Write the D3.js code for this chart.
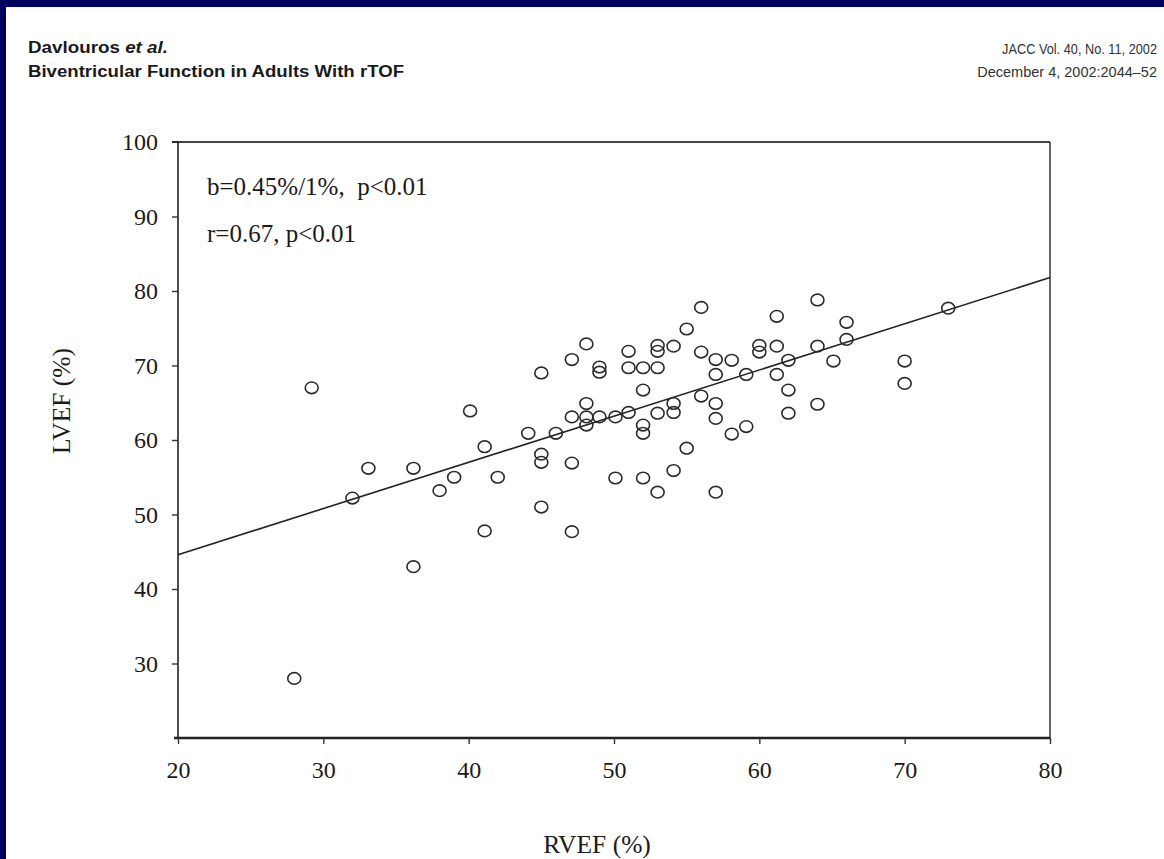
<!DOCTYPE html>
<html>
<head>
<meta charset="utf-8">
<script src="https://cdn.jsdelivr.net/npm/d3@7"></script>
<style>
html,body{margin:0;padding:0;background:#00005e;}
svg{display:block;}
</style>
</head>
<body>
<script>
// ---- data ----
const rvef = [28,29.2,32,33.1,36.2,36.2,38,39,40.1,41.1,41.1,42,44.1,45,45,45,45,46,47.1,47.1,47.1,47.1,
  48.1,48.1,48.1,48.1,49,49,49,50.1,50.1,51,51,51,52,52,52,52,52,53,53,53,53,53,54.1,54.1,54.1,54.1,
  55,55,56,56,56,57,57,57,57,57,58.1,58.1,59.1,59.1,60,60,61.2,61.2,61.2,62,62,62,64,64,64,65.1,66,66,70,70,73];
const lvef = [28,67,52.2,56.2,56.2,43,53.2,55,63.9,59.1,47.8,55,60.9,69,58.1,57,51,60.9,70.8,63.1,56.9,47.7,
  72.9,64.9,63.1,62,69.8,69.1,63.1,63.1,54.9,71.9,69.7,63.7,69.7,66.7,62,60.9,54.9,72.7,71.9,69.7,63.6,53,72.6,64.9,63.7,55.9,
  74.9,58.9,77.8,71.8,65.9,70.8,68.8,64.9,62.9,53,70.7,60.8,68.8,61.8,72.7,71.8,76.6,72.6,68.8,70.7,66.7,63.6,78.8,72.6,64.8,70.6,75.8,73.5,70.6,67.6,77.7];
const fitX = [20, 80];
const fitY = [44.6, 81.8];
const xTicks = [20,30,40,50,60,70,80];
const yTicks = [30,40,50,60,70,80,90,100];
const annotations = ["b=0.45%/1%,  p<0.01", "r=0.67, p<0.01"];
const xTitle = "RVEF (%)";
const yTitle = "LVEF (%)";

// ---- drawing ----
const W = 1164, H = 859;
const svg = d3.select("body").append("svg").attr("width", W).attr("height", H);
svg.append("rect").attr("x",0).attr("y",0).attr("width",W).attr("height",H).attr("fill","#00005e");
svg.append("rect").attr("x",6).attr("y",7).attr("width",W-6).attr("height",H-7).attr("fill","#ffffff");

// header
const hdr = svg.append("g").attr("fill","#1a1a1a").style("font-family","'Liberation Sans Narrow','Liberation Sans',Arial,sans-serif");
const t1 = hdr.append("text").attr("x",28).attr("y",53).style("font-size","16px").style("font-weight","bold")
  .attr("textLength",140).attr("lengthAdjust","spacingAndGlyphs");
t1.append("tspan").text("Davlouros ");
t1.append("tspan").style("font-style","italic").text("et al.");
hdr.append("text").attr("x",28).attr("y",77).style("font-size","16px").style("font-weight","bold")
  .attr("textLength",376).attr("lengthAdjust","spacingAndGlyphs")
  .text("Biventricular Function in Adults With rTOF");
hdr.append("text").attr("transform","translate(1157,54) scale(0.88,1)").attr("text-anchor","end")
  .style("font-size","14.5px").attr("fill","#333")
  .text("JACC Vol. 40, No. 11, 2002");
hdr.append("text").attr("transform","translate(1157,77) scale(1.0,1)").attr("text-anchor","end")
  .style("font-size","14.5px").attr("fill","#333")
  .text("December 4, 2002:2044\u201352");

const x = d3.scaleLinear().domain([20,80]).range([178,1050]);
const y = d3.scaleLinear().domain([20,100]).range([738,142]);

const serif = "'Liberation Serif','Times New Roman',serif";

// plot box top & right
svg.append("line").attr("x1",172).attr("x2",x(80)).attr("y1",y(100)).attr("y2",y(100))
  .attr("stroke","#444").attr("stroke-width",2);
svg.append("line").attr("x1",x(80)).attr("x2",x(80)).attr("y1",y(100)).attr("y2",y(20))
  .attr("stroke","#333").attr("stroke-width",1.5);

// axes
const yAxis = svg.append("g").attr("transform",`translate(${x(20)},0)`)
  .call(d3.axisLeft(y).tickValues(yTicks).tickSize(6).tickPadding(14).tickFormat(d3.format("d")));
const xAxis = svg.append("g").attr("transform",`translate(0,${y(20)})`)
  .call(d3.axisBottom(x).tickValues(xTicks).tickSize(6).tickPadding(17).tickFormat(d3.format("d")));
yAxis.select(".domain").attr("d",`M-6,${y(100)}H0V${y(20)}`).attr("stroke","#222").attr("stroke-width",1.6);
xAxis.select(".domain").attr("d",`M${x(20)-4},0H${x(80)}`).attr("stroke","#222").attr("stroke-width",2.6);
[yAxis,xAxis].forEach(a=>{
  a.selectAll(".tick line").attr("stroke","#333").attr("stroke-width",1.4);
  a.selectAll(".tick text").attr("fill","#1a1a1a").style("font-family",serif).style("font-size","24px");
});
yAxis.selectAll(".tick").filter(d=>d===100).select("line").remove();

// regression line
svg.append("line").attr("x1",x(fitX[0])).attr("y1",y(fitY[0])).attr("x2",x(fitX[1])).attr("y2",y(fitY[1]))
  .attr("stroke","#222").attr("stroke-width",1.6);

// points
const pts = rvef.map((v,i)=>({x:v,y:lvef[i]}));
svg.append("g").selectAll("ellipse").data(pts).join("ellipse")
  .attr("cx",d=>x(d.x)).attr("cy",d=>y(d.y)).attr("rx",6.5).attr("ry",5.8)
  .attr("fill","none").attr("stroke","#2a2a2a").attr("stroke-width",1.6);

// annotations
svg.append("g").style("font-family",serif).style("font-size","25px").attr("fill","#1a1a1a")
  .selectAll("text").data(annotations).join("text")
  .attr("x",207).attr("y",(d,i)=>195+i*47).attr("xml:space","preserve").style("white-space","pre").text(d=>d);

// titles
svg.append("text").attr("x",597).attr("y",853).attr("text-anchor","middle")
  .style("font-family",serif).style("font-size","25.5px").attr("fill","#1a1a1a").text(xTitle);
svg.append("text").attr("transform","translate(70,401) rotate(-90)").attr("text-anchor","middle")
  .style("font-family",serif).style("font-size","25.5px").attr("fill","#1a1a1a").text(yTitle);
</script>
</body>
</html>
